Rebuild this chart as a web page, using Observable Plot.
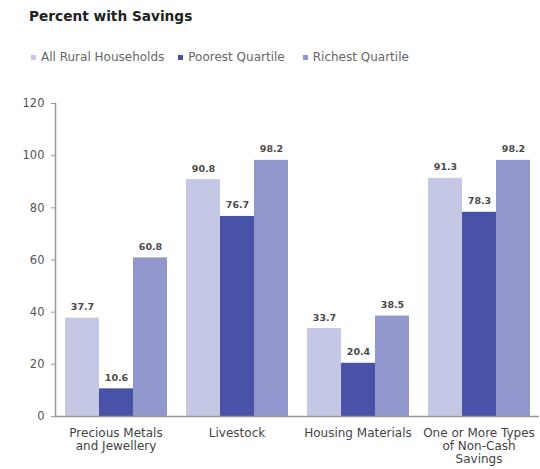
<!DOCTYPE html>
<html>
<head>
<meta charset="utf-8">
<script src="https://cdn.jsdelivr.net/npm/d3@7"></script>
<script src="https://cdn.jsdelivr.net/npm/@observablehq/plot@0.6"></script>
<style>
  html, body { margin: 0; padding: 0; background: #fff; }
  body { width: 540px; height: 469px; position: relative; overflow: hidden; font-family: "DejaVu Sans", sans-serif; }
  #title { position: absolute; left: 29px; top: 8px; font-size: 13.7px; font-weight: bold; color: #222; }
  #legend { position: absolute; left: 31px; top: 50px; font-size: 12px; color: #666; display: flex; white-space: nowrap; }
  #legend .item { display: flex; align-items: center; }
  #legend .item:nth-child(1) { margin-right: 14px; }
  #legend .item:nth-child(2) { margin-right: 18px; }
  #legend .sw { width: 5px; height: 5px; margin-right: 5px; }
  #chart { position: absolute; left: 0; top: 70px; }
</style>
</head>
<body>
<div id="title">Percent with Savings</div>
<div id="legend"></div>
<div id="chart"></div>
<script>
const categories = ["Precious Metals and Jewellery", "Livestock", "Housing Materials", "One or More Types of Non-Cash Savings"];
const categoryLabels = ["Precious Metals\nand Jewellery", "Livestock", "Housing Materials", "One or More Types\nof Non-Cash\nSavings"];
const series = ["All Rural Households", "Poorest Quartile", "Richest Quartile"];
const allRural = [37.7, 90.8, 33.7, 91.3];
const poorest = [10.6, 76.7, 20.4, 78.3];
const richest = [60.8, 98.2, 38.5, 98.2];
const yTicks = [0, 20, 40, 60, 80, 100, 120];
const colors = ["#c5c8e5", "#4852a6", "#9196cc"];

const valuesBySeries = [allRural, poorest, richest];
const rows = [];
categories.forEach((c, i) => {
  series.forEach((s, j) => rows.push({category: c, series: s, value: valuesBySeries[j][i]}));
});

const legend = document.getElementById("legend");
series.forEach((s, j) => {
  const it = document.createElement("div");
  it.className = "item";
  it.innerHTML = `<span class="sw" style="background:${colors[j]}"></span><span>${s}</span>`;
  legend.appendChild(it);
});

const chart = Plot.plot({
  width: 540,
  height: 399,
  marginLeft: 54,
  marginRight: 0,
  marginTop: 33,
  marginBottom: 53,
  style: {fontFamily: "DejaVu Sans, sans-serif", fontSize: "11px", background: "#fff"},
  fx: {domain: categories, padding: 0, label: null, axis: null},
  x: {domain: series, paddingInner: 0, paddingOuter: 0.24, axis: null},
  y: {domain: [0, 120], label: null, axis: null},
  color: {domain: series, range: colors},
  marks: [
    Plot.barY(rows, {fx: "category", x: "series", y: "value", fill: "series"}),
    Plot.text(rows, {fx: "category", x: "series", y: "value", text: (d) => d.value.toFixed(1), dy: -11, fontSize: 9.5, fontWeight: "bold", fill: "#4a4a4a"}),
    Plot.ruleY([0], {stroke: "#999", strokeWidth: 1.5}),
    Plot.frame({anchor: "left", facetAnchor: "left", stroke: "#999", strokeWidth: 1.5}),
    Plot.axisY({ticks: yTicks, tickSize: 4, stroke: "#999", fill: "#555", fontSize: 11.5, tickPadding: 7, label: null}),
    Plot.axisFx({anchor: "bottom", tickSize: 0, tickPadding: 11, fontSize: 12, lineHeight: 1.1, fill: "#444", label: null, tickFormat: (d) => categoryLabels[categories.indexOf(d)]})
  ]
});
document.getElementById("chart").appendChild(chart);
</script>
</body>
</html>
